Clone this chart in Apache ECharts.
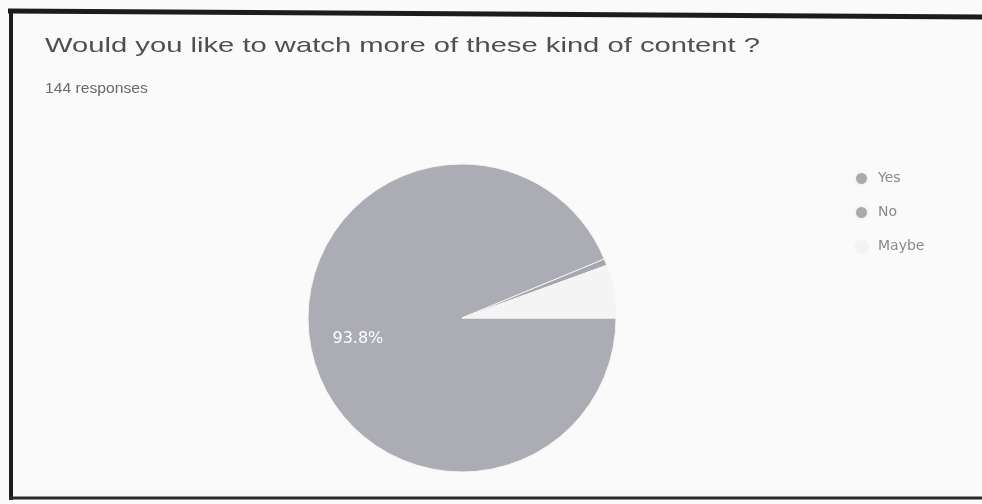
<!DOCTYPE html>
<html>
<head>
<meta charset="utf-8">
<script src="https://cdn.jsdelivr.net/npm/echarts@6/dist/echarts.min.js"></script>
<style>
  html, body { margin: 0; padding: 0; background: #fafafa; }
  #chart { width: 982px; height: 504px; }
</style>
</head>
<body>
<div id="chart"></div>
<script>
// survey answers (144 responses)
const answers = ['Yes', 'No', 'Maybe'];
const counts = [135, 1, 8];
const sliceColors = ['#abacb4', '#a6a7af', '#f4f4f4'];
const legendColors = ['#a9aab0', '#a9aab0', '#f2f2f2'];

const questionText = 'Would you like to watch more of these kind of content ?';
const responsesText = '144 responses';

const chart = echarts.init(document.getElementById('chart'));

const total = counts.reduce((a, b) => a + b, 0);

const pieData = answers.map((name, i) => ({
  name,
  value: counts[i],
  itemStyle: { color: sliceColors[i] },
}));

const center = [462, 318];
const radius = 154;

const option = {
  backgroundColor: '#fafafa',
  animation: false,
  color: legendColors,
  legend: {
    orient: 'vertical',
    left: 849,
    top: 166,
    itemGap: 19,
    itemWidth: 13,
    itemHeight: 13,
    icon: 'circle',
    data: answers.map((name, i) => ({ name, itemStyle: { color: legendColors[i] } })),
    textStyle: { fontFamily: 'DejaVu Sans', fontSize: 14, color: '#8a8a8a', padding: [0, 0, 0, 5] },
  },
  graphic: [
    {
      type: 'text',
      x: 45,
      y: 36,
      scaleX: 1.39,
      style: { text: questionText, font: '21px "Liberation Sans"', fill: '#4f4f4f' },
      silent: true,
    },
    {
      type: 'text',
      x: 45,
      y: 82,
      scaleX: 1.12,
      style: { text: responsesText, font: '14px "Liberation Sans"', fill: '#6a6a6a' },
      silent: true,
    },
    { type: 'line', shape: { x1: 8, y1: 11, x2: 982, y2: 17 }, style: { stroke: '#1c1c1c', lineWidth: 5 }, silent: true },
    { type: 'line', shape: { x1: 11, y1: 9, x2: 11, y2: 500 }, style: { stroke: '#1c1c1c', lineWidth: 4 }, silent: true },
    { type: 'line', shape: { x1: 9, y1: 498, x2: 982, y2: 498 }, style: { stroke: '#2a2a2a', lineWidth: 3 }, silent: true },
  ],
  series: [
    {
      type: 'pie',
      center,
      radius,
      startAngle: 0,
      clockwise: true,
      data: pieData,
      label: { show: false },
      labelLine: { show: false },
      itemStyle: { borderColor: '#f4f4f4', borderWidth: 1 },
      emphasis: { disabled: true },
    },
    {
      // transparent ring only used to place the percentage label further out
      type: 'pie',
      center,
      radius: [radius * 0.34, radius],
      startAngle: 0,
      clockwise: true,
      silent: true,
      legendHoverLink: false,
      data: pieData.map((d, i) => ({
        name: d.name,
        value: d.value,
        itemStyle: { color: 'rgba(0,0,0,0)' },
        label: { show: i === 0 },
      })),
      label: {
        position: 'inside',
        formatter: (p) => (p.value / total * 100).toFixed(1) + '%',
        color: '#fff',
        fontFamily: 'DejaVu Sans',
        fontSize: 16,
      },
      labelLine: { show: false },
      emphasis: { disabled: true },
    },
  ],
};

chart.setOption(option);
</script>
</body>
</html>
